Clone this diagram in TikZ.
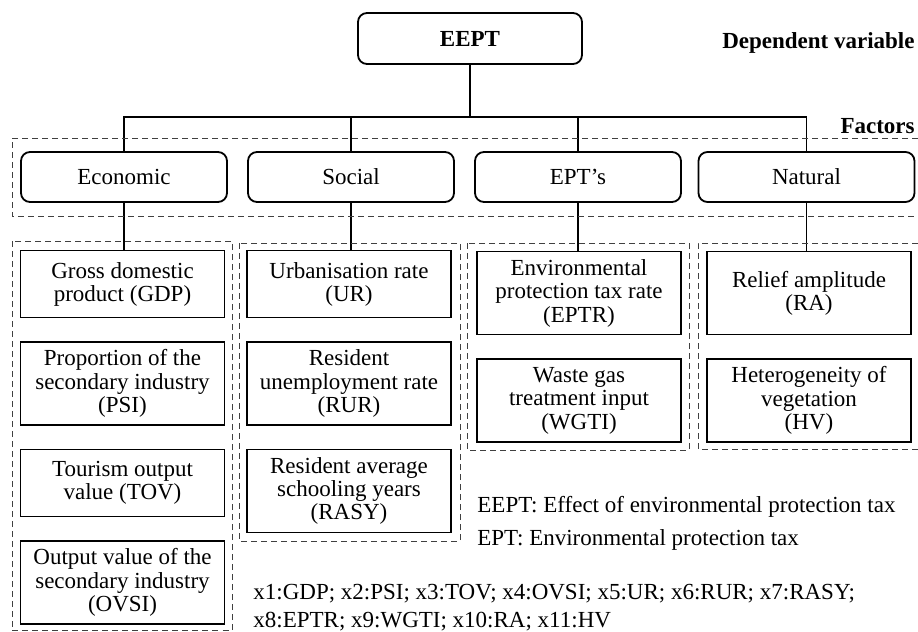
\documentclass[tikz,border=0pt]{standalone}
\usepackage{fontspec}
\setmainfont{Liberation Serif}
\usetikzlibrary{positioning}
\begin{document}
\begin{tikzpicture}[x=0.5pt,y=-0.5pt,font=\fontsize{11.5}{11.7}\selectfont]
  \tikzstyle{rootbox}=[draw,line width=0.9pt,rounded corners=4.5pt,minimum width=112pt,minimum height=25.5pt,font=\bfseries\fontsize{11.5}{11.7}\selectfont]
  \tikzstyle{factorbox}=[draw,line width=0.9pt,rounded corners=4.5pt,minimum width=103pt,minimum height=25pt]
  \tikzstyle{itembox}=[draw,line width=0.7pt,align=center,minimum width=102pt,minimum height=33.5pt,inner sep=2pt]
  \tikzstyle{tallbox}=[itembox,minimum height=41.5pt]
  \tikzstyle{groupline}=[draw,dash pattern=on 3pt off 2pt,line width=0.45pt,black!75]
  \tikzstyle{tie}=[line width=0.8pt]
  \tikzstyle{note}=[anchor=base west,inner sep=0pt]
  \tikzstyle{level}=[anchor=base east,inner sep=0pt,font=\bfseries\fontsize{11.5}{11.7}\selectfont]
  \useasboundingbox (0,0) rectangle (918,632);
  \node[rootbox] (eept) at (470,38.5) {EEPT};
  \node[level] (dep) at (915,48) {Dependent variable};
  \node[level] (fac) at (915,133) {Factors};
  \node[factorbox] (econ) at (124,177) {Economic};
  \node[factorbox] (social) at (351,177) {Social};
  \node[factorbox] (epts) at (578,177) {EPT’s};
  \node[factorbox,minimum width=108pt] (natural) at (806.5,177) {Natural};
  \node[itembox,anchor=north] (gdp) at (122.5,250) {Gross domestic\\product (GDP)};
  \node[tallbox,below=11.5pt of gdp] (psi) {Proportion of the\\secondary industry\\(PSI)};
  \node[itembox,below=11.5pt of psi] (tov) {Tourism output\\value (TOV)};
  \node[tallbox,below=11.5pt of tov] (ovsi) {Output value of the\\secondary industry\\(OVSI)};
  \node[itembox,anchor=north] (ur) at (349,250) {Urbanisation rate\\(UR)};
  \node[tallbox,below=11.5pt of ur] (rur) {Resident\\unemployment rate\\(RUR)};
  \node[tallbox,below=11.5pt of rur] (rasy) {Resident average\\schooling years\\(RASY)};
  \node[tallbox,anchor=north] (eptr) at (579,251) {Environmental\\protection tax rate\\(EPTR)};
  \node[tallbox,below=11.5pt of eptr] (wgti) {Waste gas\\treatment input\\(WGTI)};
  \node[tallbox,anchor=north] (ra) at (809,251) {Relief amplitude\\(RA)};
  \node[tallbox,below=11.5pt of ra] (hv) {Heterogeneity of\\vegetation\\(HV)};
  \coordinate (bus) at (470,117);
  \draw[tie] (eept.south) -- (bus);
  \draw[tie] (econ.north) |- (natural.north |- bus) -- (natural.north);
  \foreach \f in {social,epts}
    \draw[tie] (\f.north |- bus) -- (\f.north);
  \foreach \f/\i in {econ/gdp,social/ur,epts/eptr,natural/ra}
    \draw[tie] (\f.south) -- (\f.south |- \i.north);
  \draw[groupline] (918,138) -- (12,138) -- (12,216) -- (918,216);
  \draw[groupline] (12,241) rectangle (232,630.5);
  \draw[groupline] (239,243) rectangle (460,541);
  \draw[groupline] (467,243) rectangle (689,450);
  \draw[groupline] (918,243) -- (698,243) -- (698,449) -- (918,449);
  \node[note] (def1) at (477,512) {EEPT: Effect of environmental protection tax};
  \node[note] (def2) at (477,545) {EPT: Environmental protection tax};
  \node[note] (abbr1) at (253,599) {x1:GDP; x2:PSI; x3:TOV; x4:OVSI; x5:UR; x6:RUR; x7:RASY;};
  \node[note] (abbr2) at (253,627) {x8:EPTR; x9:WGTI; x10:RA; x11:HV};
\end{tikzpicture}
\end{document}
